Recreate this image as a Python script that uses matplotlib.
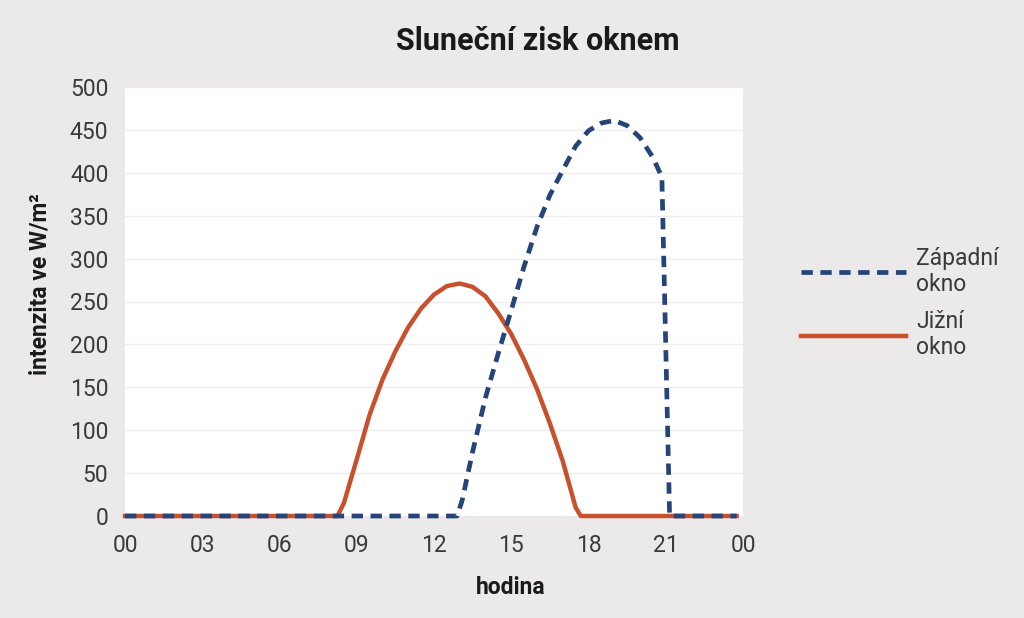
import matplotlib.pyplot as plt
from matplotlib.lines import Line2D

# values (hours of day, W/m2)
south_hours = [0, 8.25, 8.5, 9, 9.5, 10, 10.5, 11, 11.5, 12, 12.5, 13, 13.5, 14,
               14.5, 15, 15.5, 16, 16.5, 17, 17.25, 17.5, 17.7, 23.75]
south_vals = [0, 0, 15, 66, 118, 159, 192, 220, 242, 258, 268, 271, 267, 256,
              236, 212, 182, 148, 108, 64, 37, 10, 0, 0]

west_hours = [0, 12.9, 13.1, 13.5, 14, 14.5, 15, 15.5, 16, 16.5, 17, 17.5, 18,
              18.5, 19, 19.5, 20, 20.5, 20.85, 21.15, 23.75]
west_vals = [0, 0, 19, 75, 138, 190, 240, 291, 337, 374, 403, 431, 449,
             458, 461, 455, 441, 418, 395, 0, 0]

x_ticks = [0, 3, 6, 9, 12, 15, 18, 21, 24]
x_labels = ['00', '03', '06', '09', '12', '15', '18', '21', '00']
y_ticks = [0, 50, 100, 150, 200, 250, 300, 350, 400, 450, 500]

bg = '#ebe9e9'
orange = '#c9502c'
navy = '#254479'
text_col = '#3a3a3a'
dash = (0, (2.4, 1.6))

plt.rcParams['font.family'] = ['Roboto', 'DejaVu Sans']

fig = plt.figure(figsize=(10.24, 6.18), dpi=100, facecolor=bg)
ax = fig.add_axes([125 / 1024, 1 - 516 / 618, 618 / 1024, 429 / 618])
ax.set_facecolor('white')

ax.plot(south_hours, south_vals, color=orange, linewidth=3.2,
        solid_joinstyle='round', clip_on=False, zorder=3)
ax.plot(west_hours, west_vals, color=navy, linewidth=3.4,
        linestyle=dash, clip_on=False, zorder=4)

ax.set_xlim(0, 24)
ax.set_ylim(0, 500)
ax.set_xticks(x_ticks)
ax.set_xticklabels(x_labels)
ax.set_yticks(y_ticks)
ax.tick_params(length=0, labelsize=16.5, labelcolor=text_col)
ax.tick_params(axis='x', pad=13)
ax.tick_params(axis='y', pad=12)

ax.grid(axis='y', color='#eeeeee', linewidth=1)
ax.set_axisbelow(True)
for spine in ax.spines.values():
    spine.set_visible(False)

fig.text(538 / 1024, 1 - 41 / 618, 'Sluneční zisk oknem', ha='center', va='center',
         fontsize=22, fontweight='bold', color='#1a1a1a')
fig.text(511 / 1024, 1 - 588 / 618, 'hodina', ha='center', va='center',
         fontsize=16.5, fontweight='bold', color='#1a1a1a')
fig.text(40 / 1024, 1 - 284 / 618, 'intenzita ve W/m²', rotation=90, ha='center',
         va='center', fontsize=16.5, fontweight='bold', color='#1a1a1a')

handles = [
    Line2D([0], [0], color=navy, linewidth=3.4, linestyle=dash),
    Line2D([0], [0], color=orange, linewidth=3.2),
]
fig.legend(handles, ['Západní\nokno', 'Jižní\nokno'], loc='center left',
           bbox_to_anchor=(780 / 1024, 1 - 303 / 618), frameon=False,
           fontsize=16.5, handlelength=4.6, handletextpad=0.45, labelspacing=0.6,
           labelcolor=text_col)

fig.savefig('out.png', dpi=100, facecolor=bg)
